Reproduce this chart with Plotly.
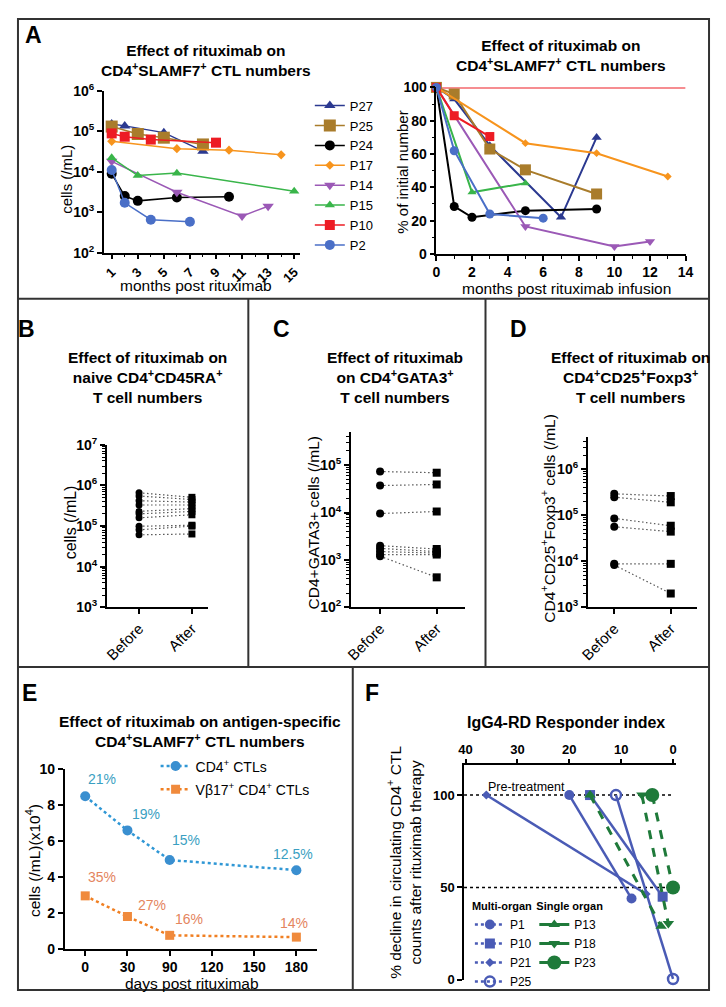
import plotly.graph_objects as go

# The page body keeps an 8px margin, so the figure is sized to fill the
# 726x1007 window exactly and all layout positions are given in window pixels.
WIN_W, WIN_H = 726, 1007
OX, OY = 8, 8
W, H = WIN_W - 2 * OX, WIN_H - 2 * OY
FONT = "Arial, 'Liberation Sans', Helvetica, sans-serif"


def px(x):
    return (x - OX) / W


def py(y):
    return 1 - (y - OY) / H


def xd(a, b):
    return [px(a), px(b)]


def yd(top, bot):
    return [py(bot), py(top)]


def sup10(e):
    return f"10<sup>{e}</sup>"


# ---------------- DATA ----------------
# Panel A (left): cells (/mL) vs months post rituximab
A_NAMES = ["P27", "P25", "P24", "P17", "P14", "P15", "P10", "P2"]
p27_m = [1, 2, 5, 8];        p27_c = [1.5e5, 1.35e5, 9.2e4, 3.2e4]
p25_m = [1, 3, 5, 8];        p25_c = [1.3e5, 8.5e4, 6.9e4, 4.7e4]
p24_m = [1, 2, 3, 6, 10];    p24_c = [8.9e3, 2.5e3, 1.9e3, 2.3e3, 2.4e3]
p17_m = [1, 6, 10, 14];      p17_c = [5.6e4, 3.7e4, 3.4e4, 2.6e4]
p14_m = [1, 6, 11, 13];      p14_c = [1.8e4, 3.1e3, 8.0e2, 1.4e3]
p15_m = [1, 3, 6, 15];       p15_c = [2.2e4, 8.0e3, 9.2e3, 3.3e3]
p10_m = [1, 2, 4, 9];        p10_c = [8.8e4, 7.3e4, 6.2e4, 5.2e4]
p2_m = [1, 2, 4, 7];         p2_c = [1.1e4, 1.7e3, 6.5e2, 5.8e2]

# Panel A (right): % of initial number vs months post rituximab infusion
r_p27_m = [0, 1, 3, 7, 9];   r_p27_v = [100, 93, 65, 22, 70]
r_p25_m = [0, 1, 3, 5, 9];   r_p25_v = [100, 96, 63, 50.5, 36]
r_p24_m = [0, 1, 2, 5, 9];   r_p24_v = [100, 28.5, 22, 26, 27]
r_p17_m = [0, 5, 9, 13];     r_p17_v = [100, 66.5, 60.5, 46.5]
r_p14_m = [0, 5, 10, 12];    r_p14_v = [100, 16.5, 4.5, 7.5]
r_p15_m = [0, 2, 5];         r_p15_v = [100, 37, 42.5]
r_p10_m = [0, 1, 3];         r_p10_v = [100, 83, 70.5]
r_p2_m = [0, 1, 3, 6];       r_p2_v = [100, 62, 24, 21.5]
ref_m = [0, 14];             ref_v = [100, 100]

# Panels B, C, D: before / after
BA_LABELS = ["Before", "After"]
b_before = [6.6e5, 5.5e5, 4.2e5, 3.3e5, 2.3e5, 2.0e5, 1.6e5, 9.9e4, 8.1e4, 6.1e4]
b_after = [5.1e5, 4.5e5, 3.9e5, 3.3e5, 2.7e5, 2.3e5, 1.9e5, 1.05e5, 1.0e5, 6.4e4]
c_before = [7.3e4, 3.7e4, 9.5e3, 2.0e3, 1.75e3, 1.5e3, 1.3e3, 1.2e3]
c_after = [6.9e4, 3.9e4, 1.05e4, 1.7e3, 1.5e3, 1.4e3, 1.3e3, 4.3e2]
d_before = [2.9e5, 2.45e5, 8.5e4, 5.6e4, 8.8e3, 8.3e3]
d_after = [2.6e5, 1.9e5, 5.9e4, 4.4e4, 8.8e3, 2.0e3]

# Panel E
e_tick_days = [0, 30, 90, 120, 150, 180]
e_days = [0, 30, 90, 180]
e_cd4 = [8.5, 6.6, 4.95, 4.38]
e_vb17 = [2.95, 1.8, 0.75, 0.65]
e_cd4_pct = ["21%", "19%", "15%", "12.5%"]
e_vb17_pct = ["35%", "27%", "16%", "14%"]

# Panel F: responder index (x) vs % decline (y)
f_p1_x = [20, 8];      f_p1_y = [100, 44]
f_p10_x = [16, 2];     f_p10_y = [100, 45]
f_p21_x = [36, 5.2];   f_p21_y = [100, 46.5]
f_p25_x = [11, 0];     f_p25_y = [100, 0.5]
f_p13_x = [16, 2.3];   f_p13_y = [100, 29]
f_p18_x = [6, 0.9];    f_p18_y = [100, 30.5]
f_p23_x = [4, 0];      f_p23_y = [100, 50]
f_levels = [100, 50]

# ---------------- STYLE ----------------
A_COLORS = ["#2b3990", "#a97c2b", "#000000", "#f7941d", "#9b59b6", "#39b54a", "#ed1c24", "#4a6fc7"]
A_SYMBOLS = ["triangle-up", "square", "circle", "diamond", "triangle-down", "triangle-up", "square", "circle"]
A_SIZES = [10, 12, 10, 7, 10, 9, 10, 10]
BLUE_E, ORANGE_E = "#2f97d5", "#f07f22"
BLUE_E_TXT, ORANGE_E_TXT = "#3a9fc2", "#e4855e"
F_BLUE, F_GREEN = "#4a5bb5", "#1f7a3a"
DOT_C = "#555555"

left_sets = [(p27_m, p27_c), (p25_m, p25_c), (p24_m, p24_c), (p17_m, p17_c),
             (p14_m, p14_c), (p15_m, p15_c), (p10_m, p10_c), (p2_m, p2_c)]
right_sets = [(r_p27_m, r_p27_v), (r_p25_m, r_p25_v), (r_p24_m, r_p24_v), (r_p17_m, r_p17_v),
              (r_p14_m, r_p14_v), (r_p15_m, r_p15_v), (r_p10_m, r_p10_v), (r_p2_m, r_p2_v)]

fig = go.Figure()

# ---- Panel A left ----
for i, (m, c) in enumerate(left_sets):
    fig.add_trace(go.Scatter(
        x=m, y=c, xaxis="x", yaxis="y", mode="lines+markers", name=A_NAMES[i],
        line=dict(color=A_COLORS[i], width=1.5),
        marker=dict(symbol=A_SYMBOLS[i], size=A_SIZES[i], color=A_COLORS[i]),
        cliponaxis=False, legend="legend", legendrank=i + 1))

# ---- Panel A right ----
fig.add_trace(go.Scatter(x=ref_m, y=ref_v, xaxis="x2", yaxis="y2", mode="lines",
                         line=dict(color="#ed1c24", width=2), showlegend=False, cliponaxis=False))
for i, (m, v) in enumerate(right_sets):
    fig.add_trace(go.Scatter(
        x=m, y=v, xaxis="x2", yaxis="y2", mode="lines+markers", showlegend=False,
        line=dict(color=A_COLORS[i], width=2),
        marker=dict(symbol=A_SYMBOLS[i], size=max(A_SIZES[i] - 1, 6), color=A_COLORS[i]),
        cliponaxis=False))


# ---- Panels B, C, D ----
def before_after(before, after, xa, ya, msize):
    for b, a in zip(before, after):
        fig.add_trace(go.Scatter(x=[0, 1], y=[b, a], xaxis=xa, yaxis=ya, mode="lines",
                                 line=dict(color=DOT_C, width=1.2, dash="1.5px,2.5px"),
                                 showlegend=False, cliponaxis=False))
    fig.add_trace(go.Scatter(x=[0] * len(before), y=before, xaxis=xa, yaxis=ya, mode="markers",
                             marker=dict(symbol="circle", size=msize, color="black"),
                             showlegend=False, cliponaxis=False))
    fig.add_trace(go.Scatter(x=[1] * len(after), y=after, xaxis=xa, yaxis=ya, mode="markers",
                             marker=dict(symbol="square", size=msize, color="black"),
                             showlegend=False, cliponaxis=False))


before_after(b_before, b_after, "x3", "y3", 7)
before_after(c_before, c_after, "x4", "y4", 8)
before_after(d_before, d_after, "x5", "y5", 8)

# ---- Panel E ----
e_pos = [e_tick_days.index(d) for d in e_days]
fig.add_trace(go.Scatter(x=e_pos, y=e_cd4, xaxis="x6", yaxis="y6", mode="lines+markers",
                         name="CD4<sup>+</sup> CTLs", legend="legend2", legendgroup="e1",
                         line=dict(color=BLUE_E, width=2.5, dash="dot"),
                         marker=dict(symbol="circle", size=10, color="#3a8fd0"), cliponaxis=False))
fig.add_trace(go.Scatter(x=e_pos, y=e_vb17, xaxis="x6", yaxis="y6", mode="lines+markers",
                         name="Vβ17<sup>+</sup> CD4<sup>+</sup> CTLs", legend="legend2", legendgroup="e2",
                         line=dict(color=ORANGE_E, width=2.5, dash="dot"),
                         marker=dict(symbol="square", size=9, color="#f08a3c"), cliponaxis=False))

# ---- Panel F ----
for lv in f_levels:
    fig.add_trace(go.Scatter(x=[40.3, 0], y=[lv, lv], xaxis="x7", yaxis="y7", mode="lines",
                             line=dict(color="black", width=1.5, dash="dot"),
                             showlegend=False, cliponaxis=False))

f_multi = [("P1", f_p1_x, f_p1_y, "circle", 10),
           ("P10", f_p10_x, f_p10_y, "square", 10),
           ("P21", f_p21_x, f_p21_y, "diamond", 7),
           ("P25", f_p25_x, f_p25_y, "circle-open", 10)]
f_single = [("P13", f_p13_x, f_p13_y, "triangle-up", 10),
            ("P18", f_p18_x, f_p18_y, "triangle-down", 10),
            ("P23", f_p23_x, f_p23_y, "circle", 14)]

for name, x, y, sym, sz in f_multi:
    mk = dict(symbol=sym, size=sz, color=F_BLUE, line=dict(color=F_BLUE, width=2.5 if "open" in sym else 0))
    fig.add_trace(go.Scatter(x=x, y=y, xaxis="x7", yaxis="y7", mode="lines+markers",
                             line=dict(color=F_BLUE, width=2.5), marker=mk,
                             showlegend=False, cliponaxis=False))
    fig.add_trace(go.Scatter(x=[None], y=[None], xaxis="x7", yaxis="y7", mode="lines+markers",
                             name=name, legend="legend3",
                             line=dict(color=F_BLUE, width=2.5, dash="dot"), marker=mk))
for name, x, y, sym, sz in f_single:
    mk = dict(symbol=sym, size=sz, color=F_GREEN)
    fig.add_trace(go.Scatter(x=x, y=y, xaxis="x7", yaxis="y7", mode="lines+markers",
                             line=dict(color=F_GREEN, width=3, dash="dash"), marker=mk,
                             showlegend=False, cliponaxis=False))
    fig.add_trace(go.Scatter(x=[None], y=[None], xaxis="x7", yaxis="y7", mode="lines+markers",
                             name=name, legend="legend4",
                             line=dict(color=F_GREEN, width=3), marker=mk))

# ---------------- AXES ----------------
def axis(domain, anchor, **kw):
    d = dict(domain=domain, anchor=anchor, showline=True, linecolor="black", linewidth=1.5,
             ticks="outside", ticklen=5, tickwidth=1.5, tickcolor="black",
             showgrid=False, zeroline=False,
             tickfont=dict(family=FONT, size=14, color="black", weight="bold"))
    d.update(kw)
    return d


def log_minor(lo, hi):
    return [m * 10 ** e for e in range(lo, hi) for m in range(2, 10)]


reg_tick = dict(family=FONT, size=15, color="black")
MINOR = dict(ticks="outside", ticklen=3, tickcolor="black", tickwidth=1)

fig.update_layout(
    xaxis=axis(xd(97, 298), "y", range=[0.4, 15.45], tickvals=list(range(1, 16, 2)), tickangle=-45,
               tickfont=dict(family=FONT, size=13, color="black", weight="bold"),
               minor=dict(tickvals=list(range(2, 16, 2)), **MINOR)),
    yaxis=axis(yd(82, 247), "x", type="log", range=[2, 6],
               tickvals=[10 ** e for e in range(2, 7)], ticktext=[sup10(e) for e in range(2, 7)]),
    xaxis2=axis(xd(437.7, 693), "y2", range=[0, 14], tickvals=list(range(0, 15, 2)),
                minor=dict(dtick=1, **MINOR)),
    yaxis2=axis(yd(78.7, 248.3), "x2", range=[0, 100], tickvals=list(range(0, 101, 20)),
                minor=dict(dtick=10, **MINOR)),
    xaxis3=axis(xd(100, 204), "y3", range=[-0.61, 1.31], tickvals=[0, 1], ticktext=BA_LABELS,
                tickangle=-45, tickfont=reg_tick),
    yaxis3=axis(yd(442.7, 608.3), "x3", type="log", range=[3, 7],
                tickvals=[10 ** e for e in range(3, 8)], ticktext=[sup10(e) for e in range(3, 8)],
                minor=dict(tickvals=log_minor(3, 7), **MINOR)),
    xaxis4=axis(xd(350, 467), "y4", range=[-0.517, 1.5], tickvals=[0, 1], ticktext=BA_LABELS,
                tickangle=-45, tickfont=reg_tick),
    yaxis4=axis(yd(430, 608.3), "x4", type="log", range=[2, 5.69],
                tickvals=[10 ** e for e in range(2, 6)], ticktext=[sup10(e) for e in range(2, 6)],
                minor=dict(tickvals=log_minor(2, 6), **MINOR)),
    xaxis5=axis(xd(592.7, 705), "y5", range=[-0.47, 1.47], tickvals=[0, 1], ticktext=BA_LABELS,
                tickangle=-45, tickfont=reg_tick),
    yaxis5=axis(yd(435, 608.3), "x5", type="log", range=[3, 6.69],
                tickvals=[10 ** e for e in range(3, 7)], ticktext=[sup10(e) for e in range(3, 7)],
                minor=dict(tickvals=log_minor(3, 7), **MINOR)),
    xaxis6=axis(xd(56.7, 315), "y6", range=[-0.49, 5.48], tickvals=list(range(len(e_tick_days))),
                ticktext=[str(d) for d in e_tick_days]),
    yaxis6=axis(yd(773.3, 956), "x6", range=[0, 10], tickvals=list(range(0, 11, 2))),
    xaxis7=axis(xd(466, 683.3), "y7", range=[40.3, -0.6], side="top", tickvals=[0, 10, 20, 30, 40],
                tickfont=dict(family=FONT, size=13, color="black", weight="bold")),
    yaxis7=axis(yd(769.3, 987.7), "x7", range=[0, 116], tickvals=[0, 50, 100],
                tickfont=dict(family=FONT, size=13, color="black", weight="bold")),
)

# ---------------- LEGENDS ----------------
fig.update_layout(
    legend=dict(x=px(308), y=py(82), xanchor="left", yanchor="top", bgcolor="rgba(0,0,0,0)",
                font=dict(family=FONT, size=13, color="black"), tracegroupgap=0),
    legend2=dict(x=px(150), y=py(754), xanchor="left", yanchor="top", bgcolor="rgba(0,0,0,0)",
                 font=dict(family=FONT, size=14, color="black"), tracegroupgap=2),
    legend3=dict(x=px(472), y=py(902), xanchor="left", yanchor="top", bgcolor="rgba(0,0,0,0)",
                 font=dict(family=FONT, size=12, color="black"),
                 title=dict(text="<b>Multi-organ</b>", font=dict(family=FONT, size=11, color="black"))),
    legend4=dict(x=px(538), y=py(902), xanchor="left", yanchor="top", bgcolor="rgba(0,0,0,0)",
                 font=dict(family=FONT, size=12, color="black"),
                 title=dict(text="<b>Single organ</b>", font=dict(family=FONT, size=11, color="black"))),
)

# ---------------- ANNOTATIONS ----------------
ann = []


def text(x, y, t, size, bold=False, angle=0, color="black", align="center"):
    ann.append(dict(x=px(x), y=py(y), xref="paper", yref="paper", text=f"<b>{t}</b>" if bold else t,
                    showarrow=False, xanchor="center", yanchor="middle", textangle=angle, align=align,
                    font=dict(family=FONT, size=size, color=color)))


# panel letters
for lab, x, y in [("A", 25, 25), ("B", 18, 325), ("C", 279, 325), ("D", 522, 325), ("E", 21, 695), ("F", 372, 695)]:
    text(x, y, lab, 23, bold=True)

TS = 15.5
text(202, 51, "Effect of rituximab on<br>CD4<sup>+</sup>SLAMF7<sup>+</sup> CTL numbers", TS, bold=True)
text(58, 172, "cells (/mL)", 15, angle=-90)
text(191, 280, "months post rituximab", 15.5)

text(565, 46, "Effect of rituximab on<br>CD4<sup>+</sup>SLAMF7<sup>+</sup> CTL numbers", TS, bold=True)
text(403, 165, "% of initial number", 15, angle=-90)
text(571, 283, "months post rituximab infusion", 15.5)

text(142, 374, "Effect of rituximab on<br>naive CD4<sup>+</sup>CD45RA<sup>+</sup><br>T cell numbers", TS, bold=True)
text(63, 522, "cells (/mL)", 16, angle=-90)

text(395, 374, "Effect of rituximab<br>on CD4<sup>+</sup>GATA3<sup>+</sup><br>T cell numbers", TS, bold=True)
text(312, 522, "CD4+GATA3+ cells (/mL)", 15.5, angle=-90)

text(637, 374, "Effect of rituximab on<br>CD4<sup>+</sup>CD25<sup>+</sup>Foxp3<sup>+</sup><br>T cell numbers", TS, bold=True)
text(552, 517, "CD4<sup>+</sup>CD25<sup>+</sup>Foxp3<sup>+</sup> cells (/mL)", 15.5, angle=-90)

text(195, 735, "Effect of rituximab on antigen-specific<br>CD4<sup>+</sup>SLAMF7<sup>+</sup> CTL numbers", TS, bold=True)
text(25, 866, "cells (/mL)(x10<sup>4</sup>)", 15.5, angle=-90)
text(187, 991, "days post rituximab", 15.5)

text(570, 726, "IgG4-RD Responder index", 16, bold=True)
text(405, 868, "% decline in circulating CD4<sup>+</sup> CTL<br>counts after rituximab therapy", 15.5, angle=-90)

# E percent labels (offsets are label placement)
cd4_dx = [17, 19, 16, -3]; cd4_dy = [17, 16, 20, 16]
vb_dx = [17, 25, 19, -2];  vb_dy = [19, 11, 16, 14]
for i, p in enumerate(e_pos):
    ann.append(dict(x=p, y=e_cd4[i], xref="x6", yref="y6", text=e_cd4_pct[i], showarrow=False,
                    xshift=cd4_dx[i], yshift=cd4_dy[i], font=dict(family=FONT, size=14, color=BLUE_E_TXT)))
    ann.append(dict(x=p, y=e_vb17[i], xref="x6", yref="y6", text=e_vb17_pct[i], showarrow=False,
                    xshift=vb_dx[i], yshift=vb_dy[i], font=dict(family=FONT, size=14, color=ORANGE_E_TXT)))

ann.append(dict(x=f_p21_x[0], y=f_levels[0], xref="x7", yref="y7", text="Pre-treatment", showarrow=False,
                xanchor="left", yanchor="bottom", xshift=0, yshift=-1,
                font=dict(family=FONT, size=12.5, color="black")))

# ---------------- PANEL BORDERS ----------------
LC = "#333333"
BL, BR, BT, BB = 9, 717, 9, 998   # outer frame (kept inside the drawable page area)


def hline(y, x0, x1):
    return dict(type="line", xref="paper", yref="paper", x0=px(x0), x1=px(x1), y0=py(y), y1=py(y),
                line=dict(color=LC, width=2))


def vline(x, y0, y1):
    return dict(type="line", xref="paper", yref="paper", x0=px(x), x1=px(x), y0=py(y0), y1=py(y1),
                line=dict(color=LC, width=2))


shapes = [
    dict(type="rect", xref="paper", yref="paper", x0=px(BL), x1=px(BR), y0=py(BB), y1=py(BT),
         line=dict(color=LC, width=2)),
    hline(294, BL, BR), hline(669, BL, BR),
    vline(245, 294, 669), vline(488, 294, 669), vline(352, 669, BB),
]

fig.update_layout(
    width=W, height=H, margin=dict(l=0, r=0, t=0, b=0),
    paper_bgcolor="white", plot_bgcolor="white",
    font=dict(family=FONT, color="black"),
    annotations=ann, shapes=shapes,
)

fig.write_html("out.html", config={"displayModeBar": False})
